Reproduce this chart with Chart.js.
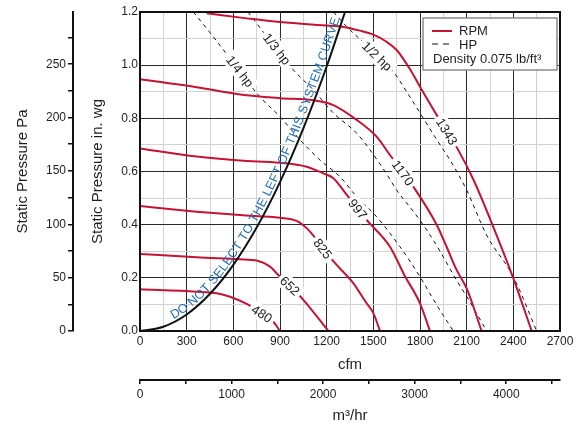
<!DOCTYPE html>
<html>
<head>
<meta charset="utf-8">
<title>Fan performance curve</title>
<script src="https://cdn.jsdelivr.net/npm/chart.js@4.4.1/dist/chart.umd.min.js"></script>
<style>
  body { margin: 0; background: #fff; }
  #wrap { width: 585px; height: 425px; }
</style>
</head>
<body>
<div id="wrap"><canvas id="fanChart" width="585" height="425"></canvas></div>
<script>
// RPM curves: airflow (cfm) and static pressure (in. wg)
const rpm1343Cfm = [429, 686, 900, 1221, 1307, 1414, 1500, 1580, 1650, 1730, 1800, 1907, 2040, 2143, 2271, 2400, 2518];
const rpm1343Sp  = [1.195, 1.176, 1.162, 1.148, 1.144, 1.13, 1.115, 1.09, 1.057, 0.99, 0.919, 0.813, 0.687, 0.57, 0.392, 0.198, 0];
const rpm1170Cfm = [0, 364, 643, 900, 1114, 1243, 1393, 1521, 1607, 1757, 1907, 1971, 2036, 2100, 2196];
const rpm1170Sp  = [0.947, 0.917, 0.89, 0.876, 0.868, 0.85, 0.794, 0.731, 0.662, 0.543, 0.40, 0.317, 0.229, 0.16, 0];
const rpm997Cfm  = [0, 364, 643, 900, 1071, 1178, 1243, 1329, 1457, 1607, 1700, 1800, 1864];
const rpm997Sp   = [0.687, 0.656, 0.641, 0.633, 0.618, 0.593, 0.575, 0.512, 0.418, 0.317, 0.21, 0.104, 0];
const rpm825Cfm  = [0, 364, 643, 900, 1007, 1093, 1176, 1254, 1371, 1450, 1500, 1543];
const rpm825Sp   = [0.47, 0.449, 0.436, 0.426, 0.414, 0.374, 0.31, 0.255, 0.18, 0.11, 0.067, 0];
const rpm652Cfm  = [0, 364, 643, 750, 836, 889, 964, 1050, 1211];
const rpm652Sp   = [0.29, 0.277, 0.27, 0.265, 0.242, 0.211, 0.17, 0.117, 0];
const rpm480Cfm  = [0, 364, 493, 579, 686, 784, 857, 900];
const rpm480Sp   = [0.157, 0.148, 0.142, 0.129, 0.102, 0.065, 0.035, 0];

// HP lines
const hpQuarterCfm = [343, 471, 771, 900, 1029, 1157, 1286, 1393, 1521, 1671, 1800, 1900, 2014];
const hpQuarterSp  = [1.2, 1.107, 0.881, 0.806, 0.719, 0.643, 0.58, 0.505, 0.43, 0.317, 0.204, 0.105, 0];
const hpThirdCfm   = [694, 986, 1114, 1243, 1393, 1479, 1586, 1650, 1757, 1843, 1929, 2036, 2100, 2229];
const hpThirdSp    = [1.2, 0.982, 0.907, 0.82, 0.744, 0.681, 0.59, 0.53, 0.45, 0.38, 0.30, 0.19, 0.13, 0];
const hpHalfCfm    = [1243, 1329, 1629, 1714, 1779, 1929, 1993, 2100, 2229, 2400, 2550];
const hpHalfSp     = [1.2, 1.145, 0.975, 0.90, 0.84, 0.70, 0.643, 0.53, 0.36, 0.204, 0];

// system curve
const sysCfm = [0, 150, 300, 450, 600, 750, 900, 1050, 1200, 1318];
const sysSp  = [0, 0.016, 0.062, 0.14, 0.249, 0.389, 0.56, 0.762, 0.995, 1.2];

// tick labels
const cfmTicks  = [0, 300, 600, 900, 1200, 1500, 1800, 2100, 2400, 2700];
const inwgTicks = [0, 0.2, 0.4, 0.6, 0.8, 1.0, 1.2];
const paTicks   = [0, 50, 100, 150, 200, 250];
const m3hTicks  = [0, 1000, 2000, 3000, 4000];

const PA_PER_INWG = 249.09;
const M3H_PER_CFM = 1.699;

const RED = '#c41434';
const INK = '#1e1e1e';
const FONT = '"Liberation Sans", Arial, Helvetica, sans-serif';

function pts(xs, ys) {
    return xs.map((x, i) => ({ x: x, y: ys[i] }));
}

const rpmCurves = [
    { name: '1343', cfm: rpm1343Cfm, sp: rpm1343Sp, labelAt: 1973 },
    { name: '1170', cfm: rpm1170Cfm, sp: rpm1170Sp, labelAt: 1691 },
    { name: '997',  cfm: rpm997Cfm,  sp: rpm997Sp,  labelAt: 1401 },
    { name: '825',  cfm: rpm825Cfm,  sp: rpm825Sp,  labelAt: 1176 },
    { name: '652',  cfm: rpm652Cfm,  sp: rpm652Sp,  labelAt: 964 },
    { name: '480',  cfm: rpm480Cfm,  sp: rpm480Sp,  labelAt: 784 }
];
const hpCurves = [
    { name: '1/4 hp', cfm: hpQuarterCfm, sp: hpQuarterSp, labelAt: 643 },
    { name: '1/3 hp', cfm: hpThirdCfm,   sp: hpThirdSp,   labelAt: 880 },
    { name: '1/2 hp', cfm: hpHalfCfm,    sp: hpHalfSp,    labelAt: 1524 }
];

const datasets = [];
datasets.push({
    label: 'System curve',
    data: pts(sysCfm, sysSp),
    borderColor: '#111',
    borderWidth: 2,
    pointRadius: 0,
    cubicInterpolationMode: 'monotone',
    order: 0
});
rpmCurves.forEach(c => {
    datasets.push({
        label: c.name + ' RPM',
        data: pts(c.cfm, c.sp),
        borderColor: RED,
        borderWidth: 2,
        pointRadius: 0,
        cubicInterpolationMode: 'monotone',
        order: 1
    });
});
hpCurves.forEach(c => {
    datasets.push({
        label: c.name,
        data: pts(c.cfm, c.sp),
        borderColor: '#111',
        borderWidth: 1,
        borderDash: [4, 4],
        pointRadius: 0,
        cubicInterpolationMode: 'monotone',
        order: 2
    });
});

function near(list, v) {
    return list.some(t => Math.abs(t - v) < 1e-6);
}

// minor ticks every `step` up to the scale max
function stepTicks(step) {
    return s => {
        const out = [];
        for (let v = 0; v <= s.max + 1e-9; v += step) out.push({ value: v });
        s.ticks = out;
    };
}

function interpY(xs, ys, x) {
    for (let i = 0; i < xs.length - 1; i++) {
        if (x >= xs[i] && x <= xs[i + 1]) {
            const f = (x - xs[i]) / (xs[i + 1] - xs[i]);
            return { y: ys[i] + f * (ys[i + 1] - ys[i]), i: i };
        }
    }
    return { y: ys[ys.length - 1], i: xs.length - 2 };
}

// smooth polyline through pixel points (Catmull-Rom)
function densePath(p) {
    const out = [];
    for (let i = 0; i < p.length - 1; i++) {
        const p0 = p[Math.max(i - 1, 0)], p1 = p[i], p2 = p[i + 1], p3 = p[Math.min(i + 2, p.length - 1)];
        for (let k = 0; k < 24; k++) {
            const t = k / 24, t2 = t * t, t3 = t2 * t;
            const cr = (a, b, c, d) => 0.5 * (2 * b + (-a + c) * t + (2 * a - 5 * b + 4 * c - d) * t2 + (-a + 3 * b - 3 * c + d) * t3);
            out.push({ x: cr(p0.x, p1.x, p2.x, p3.x), y: cr(p0.y, p1.y, p2.y, p3.y) });
        }
    }
    out.push(p[p.length - 1]);
    let s = 0;
    out[0].s = 0;
    for (let i = 1; i < out.length; i++) {
        s += Math.hypot(out[i].x - out[i - 1].x, out[i].y - out[i - 1].y);
        out[i].s = s;
    }
    return out;
}

function pointAt(path, s) {
    for (let i = 1; i < path.length; i++) {
        if (path[i].s >= s) {
            const a = path[i - 1], b = path[i];
            const f = (s - a.s) / (b.s - a.s || 1);
            return { x: a.x + f * (b.x - a.x), y: a.y + f * (b.y - a.y), angle: Math.atan2(b.y - a.y, b.x - a.x) };
        }
    }
    const a = path[path.length - 2], b = path[path.length - 1];
    return { x: b.x, y: b.y, angle: Math.atan2(b.y - a.y, b.x - a.x) };
}

function sAtPixelY(path, py) {
    for (let i = 1; i < path.length; i++) {
        if (path[i].y <= py) {
            const a = path[i - 1], b = path[i];
            const f = (a.y - py) / (a.y - b.y || 1);
            return a.s + f * (b.s - a.s);
        }
    }
    return path[path.length - 1].s;
}

const annotations = {
    id: 'annotations',
    afterDatasetsDraw(chart) {
        const ctx = chart.ctx;
        const xs = chart.scales.x, ys = chart.scales.y;
        const area = chart.chartArea;

        // labels sitting on the curves
        ctx.save();
        ctx.font = '13px ' + FONT;
        ctx.textAlign = 'center';
        ctx.textBaseline = 'middle';
        rpmCurves.concat(hpCurves).forEach(c => {
            const r = interpY(c.cfm, c.sp, c.labelAt);
            const px = xs.getPixelForValue(c.labelAt), py = ys.getPixelForValue(r.y);
            const ax = xs.getPixelForValue(c.cfm[r.i]), ay = ys.getPixelForValue(c.sp[r.i]);
            const bx = xs.getPixelForValue(c.cfm[r.i + 1]), by = ys.getPixelForValue(c.sp[r.i + 1]);
            const ang = Math.atan2(by - ay, bx - ax);
            const w = ctx.measureText(c.name).width;
            ctx.save();
            ctx.translate(px, py);
            ctx.rotate(ang);
            ctx.fillStyle = '#fff';
            ctx.fillRect(-w / 2 - 3, -8, w + 6, 16);
            ctx.fillStyle = INK;
            ctx.fillText(c.name, 0, 1);
            ctx.restore();
        });
        ctx.restore();

        // warning text along the system curve
        const path = densePath(sysCfm.map((x, i) => ({ x: xs.getPixelForValue(x), y: ys.getPixelForValue(sysSp[i]) })));
        const text = 'DO NOT SELECT TO THE LEFT OF THIS SYSTEM CURVE';
        ctx.save();
        ctx.font = '12.5px ' + FONT;
        ctx.fillStyle = '#1f6db3';
        ctx.textBaseline = 'alphabetic';
        const chars = text.split('');
        const widths = chars.map(ch => ctx.measureText(ch).width);
        const total = widths.reduce((a, b) => a + b, 0);
        const s0 = sAtPixelY(path, ys.getPixelForValue(0.035));
        const s1 = sAtPixelY(path, ys.getPixelForValue(1.17));
        const gap = (s1 - s0 - total) / (chars.length - 1);
        let acc = s0;
        chars.forEach((ch, i) => {
            const p = pointAt(path, acc + widths[i] / 2);
            const nx = Math.sin(p.angle), ny = -Math.cos(p.angle);
            ctx.save();
            ctx.translate(p.x + nx * 3, p.y + ny * 3);
            ctx.rotate(p.angle);
            ctx.fillText(ch, -widths[i] / 2, 0);
            ctx.restore();
            acc += widths[i] + gap;
        });
        ctx.restore();

        // frame round the plot
        ctx.save();
        ctx.strokeStyle = '#111';
        ctx.lineWidth = 2;
        ctx.strokeRect(area.left, area.top, area.right - area.left, area.bottom - area.top);
        ctx.restore();
    },
    afterDraw(chart) {
        const ctx = chart.ctx;
        const area = chart.chartArea;
        const x0 = area.right - 137, y0 = area.top + 6, w = 134, h = 52;
        ctx.save();
        ctx.fillStyle = '#fff';
        ctx.fillRect(x0, y0, w, h);
        ctx.strokeStyle = '#8a8a8a';
        ctx.lineWidth = 1.5;
        ctx.strokeRect(x0, y0, w, h);

        ctx.strokeStyle = RED;
        ctx.lineWidth = 2;
        ctx.beginPath();
        ctx.moveTo(x0 + 9, y0 + 13);
        ctx.lineTo(x0 + 29, y0 + 13);
        ctx.stroke();

        ctx.strokeStyle = '#111';
        ctx.lineWidth = 1;
        ctx.setLineDash([6, 5]);
        ctx.beginPath();
        ctx.moveTo(x0 + 9, y0 + 26);
        ctx.lineTo(x0 + 30, y0 + 26);
        ctx.stroke();
        ctx.setLineDash([]);

        ctx.fillStyle = INK;
        ctx.font = '13px ' + FONT;
        ctx.textBaseline = 'middle';
        ctx.fillText('RPM', x0 + 36, y0 + 13);
        ctx.fillText('HP', x0 + 36, y0 + 27);
        ctx.fillText('Density 0.075 lb/ft\u00b3', x0 + 10, y0 + 41);
        ctx.restore();
    }
};

const tickFont = { family: FONT, size: 12 };
const titleFont = { family: FONT, size: 15 };

new Chart(document.getElementById('fanChart'), {
    type: 'line',
    data: { datasets: datasets },
    plugins: [annotations],
    options: {
        responsive: false,
        animation: false,
        devicePixelRatio: 1,
        layout: { padding: { left: 0, right: 25, top: 12, bottom: 0 } },
        plugins: {
            legend: { display: false },
            tooltip: { enabled: false }
        },
        scales: {
            x: {
                type: 'linear',
                position: 'bottom',
                weight: 0,
                min: 0,
                max: 2700,
                afterFit: s => { s.height = 49; },
                afterBuildTicks: stepTicks(150),
                ticks: {
                    autoSkip: false,
                    maxRotation: 0,
                    minRotation: 0,
                    padding: 3,
                    color: INK,
                    font: tickFont,
                    callback: v => near(cfmTicks, v) ? String(v) : ''
                },
                grid: {
                    drawTicks: false,
                    color: c => (c.tick && near(cfmTicks, c.tick.value)) ? '#2a2a2a' : '#d2d2d2',
                    lineWidth: 1
                },
                border: { display: true, color: '#111', width: 2 },
                title: { display: true, text: 'cfm', color: INK, font: titleFont, padding: { top: 0, bottom: 6 } }
            },
            x2: {
                type: 'linear',
                position: 'bottom',
                weight: 1,
                min: 0,
                max: 2700 * M3H_PER_CFM,
                afterFit: s => { s.height = 45; },
                afterBuildTicks: stepTicks(500),
                ticks: {
                    autoSkip: false,
                    maxRotation: 0,
                    minRotation: 0,
                    padding: 3,
                    color: INK,
                    font: tickFont,
                    callback: v => near(m3hTicks, v) ? String(v) : ''
                },
                grid: { drawOnChartArea: false, drawTicks: true, tickLength: 4, color: '#111', lineWidth: 1.5 },
                border: { display: true, color: '#111', width: 2 },
                title: { display: true, text: 'm\u00b3/hr', color: INK, font: titleFont, padding: { top: 0, bottom: 0 } }
            },
            y: {
                type: 'linear',
                position: 'left',
                weight: 0,
                min: 0,
                max: 1.2,
                afterFit: s => { s.width = 67; },
                ticks: {
                    stepSize: 0.1,
                    autoSkip: false,
                    padding: 2,
                    color: INK,
                    font: tickFont,
                    callback: v => near(inwgTicks, v) ? v.toFixed(1) : ''
                },
                grid: {
                    drawTicks: false,
                    color: c => (c.tick && near(inwgTicks, c.tick.value)) ? '#2a2a2a' : '#d2d2d2',
                    lineWidth: 1
                },
                border: { display: true, color: '#111', width: 2 },
                title: { display: true, text: 'Static Pressure in. wg', color: INK, font: titleFont, padding: { top: 16, bottom: 0 } }
            },
            y2: {
                type: 'linear',
                position: 'left',
                weight: 1,
                min: 0,
                max: 1.2 * PA_PER_INWG,
                afterFit: s => { s.width = 73; },
                afterBuildTicks: stepTicks(25),
                ticks: {
                    autoSkip: false,
                    padding: 2,
                    color: INK,
                    font: tickFont,
                    callback: v => near(paTicks, v) ? String(v) : ''
                },
                grid: { drawOnChartArea: false, drawTicks: true, tickLength: 5, color: '#111', lineWidth: 1.5 },
                border: { display: true, color: '#111', width: 2 },
                title: { display: true, text: 'Static Pressure Pa', color: INK, font: titleFont, padding: { top: 14, bottom: 0 } }
            }
        }
    }
});
</script>
</body>
</html>
